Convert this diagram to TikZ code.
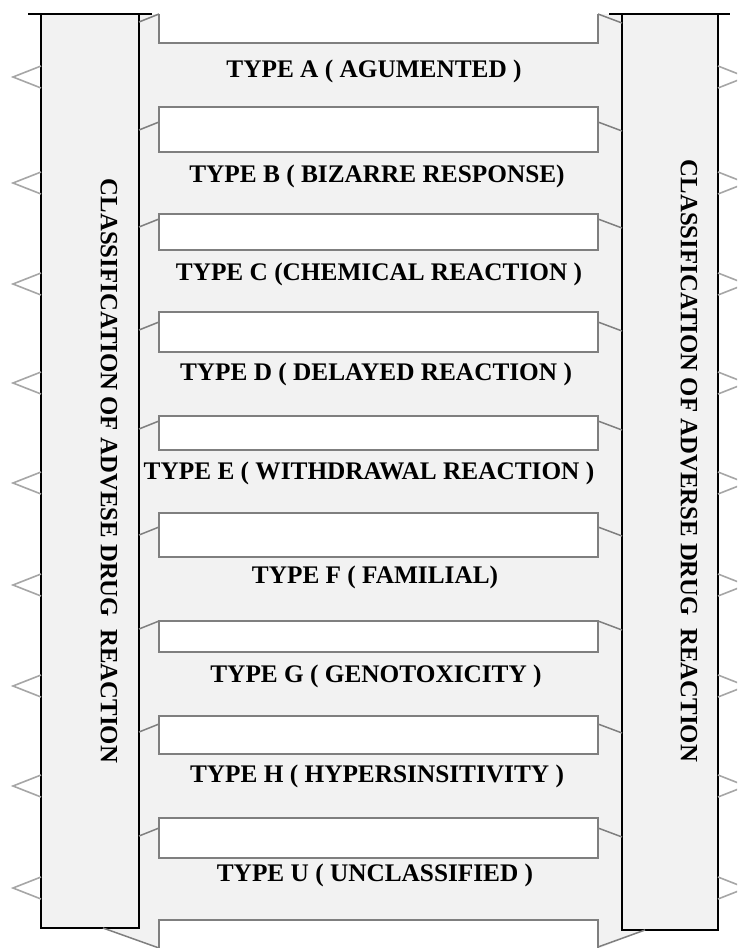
\documentclass[tikz,border=0pt]{standalone}
\usepackage{fontspec}
\setmainfont{Liberation Serif}
\usepackage{xcolor}
\usepackage{tikz}
\usetikzlibrary{positioning}
\definecolor{panelgray}{HTML}{F2F2F2}
\definecolor{edgegray}{HTML}{7F7F7F}
\definecolor{spikegray}{HTML}{A6A6A6}
\tikzstyle{column} = [rectangle, draw=black, line width=1.3pt, fill=panelgray,
    inner sep=0pt, outer sep=0pt]
\tikzstyle{colline} = [draw=black, line width=1.3pt]
\tikzstyle{typebox} = [rectangle, draw=edgegray, line width=1.8pt, fill=white,
    minimum width=439pt, inner sep=0pt, outer sep=0pt]
\tikzstyle{typelabel} = [font=\fontsize{25.3}{29}\selectfont\bfseries,
    inner sep=0pt, anchor=base]
\tikzstyle{coltext} = [font=\fontsize{24.8}{29}\selectfont\bfseries,
    inner sep=0pt, rotate=-90]
\tikzstyle{notch} = [draw=edgegray, line width=1.5pt]
\tikzstyle{spike} = [draw=spikegray, line width=1.6pt]

\begin{document}
\begin{tikzpicture}[x=1pt, y=-1pt]
  \useasboundingbox (0,0) rectangle (737,948);
  \clip (0,0) rectangle (737,948);
  % Gray panel between the columns
  \fill [panelgray] (139,14) -- (622,14) -- (622,930) -- (645,930) -- (600,948)
    -- (159,948) -- (103,928) -- (139,928) -- cycle;
  % Place boxes
  \begin{scope}
    \clip (0,14) rectangle (737,948);
    \foreach \nm/\ytop/\ybot in {A/0/43, B/107/152, C/214/250, D/312/352,
        E/416/450, F/513/557, G/621/652, H/716/754, U/818/858, Z/920/990}
      \node [typebox, minimum height={\ybot-\ytop}] (box\nm)
        at (378.5,{(\ytop+\ybot)/2}) {};
  \end{scope}
  % Place columns
  \node [column, minimum width=98pt, minimum height=914pt] (leftcol) at (90,471) {};
  \node [column, minimum width=96pt, minimum height=916pt] (rightcol) at (670,472) {};
  \draw [colline] ([xshift=-13pt]leftcol.north west) -- ([xshift=13pt]leftcol.north east);
  \draw [colline] ([xshift=-13pt]rightcol.north west) -- ([xshift=12pt]rightcol.north east);
  \node [coltext] (lefttitle) at (109,471) {CLASSIFICATION OF ADVESE DRUG \ REACTION};
  \node [coltext] (righttitle) at (689,461) {CLASSIFICATION OF ADVERSE DRUG \ REACTION};
  % Draw notches
  \foreach \nm/\yn in {A/14, B/122, C/219, D/322, E/421, F/527, G/621, H/724, U/828} {
    \draw [notch] (leftcol.east |- 0,\yn+8) -- (box\nm.west |- 0,\yn);
    \draw [notch] (box\nm.east |- 0,\yn) -- (rightcol.west |- 0,\yn+9);
  }
  \draw [notch] (leftcol.south -| 103,0) -- (boxZ.west |- 0,948);
  \draw [notch] (boxZ.east |- 0,947) -- (rightcol.south -| 645,0);
  \foreach \ys in {77,183,284,383,483,585,686,786,888} {
    \draw [spike] (leftcol.west |- 0,\ys-11) -- ++(-28,11) -- ++(28,11);
    \draw [spike] (rightcol.east |- 0,\ys-11) -- ++(28,11) -- ++(-28,11);
  }
  % Labels
  \foreach \nm/\xc/\yb/\txt in {A/374/77/{TYPE A ( AGUMENTED )},
      B/377/182/{TYPE B ( BIZARRE RESPONSE)}, C/379/280/{TYPE C (CHEMICAL REACTION )},
      D/376/380/{TYPE D ( DELAYED REACTION )}, E/369/479/{TYPE E ( WITHDRAWAL REACTION )},
      F/375/583/{TYPE F ( FAMILIAL)}, G/376/682/{TYPE G ( GENOTOXICITY )},
      H/377/782/{TYPE H ( HYPERSINSITIVITY )}, U/375/881/{TYPE U ( UNCLASSIFIED )}}
    \node [typelabel] (lab\nm) at (\xc,\yb) {\txt};
\end{tikzpicture}
\end{document}
